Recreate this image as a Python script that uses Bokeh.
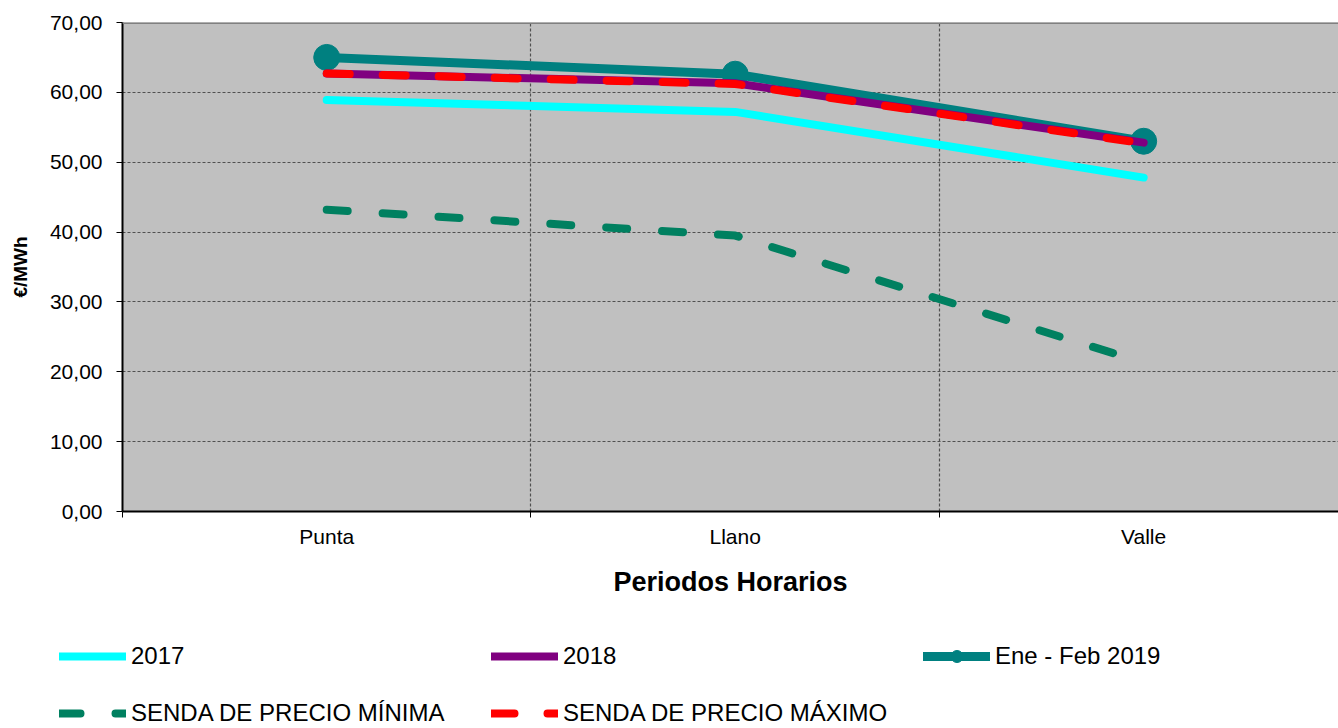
from bokeh.plotting import figure
from bokeh.layouts import column, row
from bokeh.models import Range1d, FixedTicker, Legend, LegendItem, Span
from bokeh.embed import file_html
from bokeh.resources import INLINE

# ---- data ----
categories = ["Punta", "Llano", "Valle"]
serie_2017 = [58.9, 57.2, 47.8]
serie_2018 = [62.7, 61.3, 52.8]
serie_2019 = [65.0, 62.6, 53.0]
senda_min = [43.2, 39.5, 21.3]
senda_max = [62.7, 61.2, 52.7]
y_ticks = [0, 10, 20, 30, 40, 50, 60, 70]
y_labels = ["0,00", "10,00", "20,00", "30,00", "40,00", "50,00", "60,00", "70,00"]
series_labels = ["2017", "2018", "Ene - Feb 2019",
                 "SENDA DE PRECIO MÍNIMA", "SENDA DE PRECIO MÁXIMO"]

FONT = "Liberation Sans"

# ---- styles ----
st_2017 = dict(line_color="#00FFFF", line_width=8, line_cap="round", line_join="round")
st_2018 = dict(line_color="#800080", line_width=8, line_cap="round", line_join="round")
st_2019 = dict(line_color="#008080", line_width=9, line_cap="round", line_join="round")
st_min = dict(line_color="#008060", line_width=8, line_cap="round", line_dash="21 35")
st_max = dict(line_color="#FF0000", line_width=8, line_cap="round", line_dash="23 33")
st_2019m = dict(marker="circle", fill_color="#008080", line_color="#008080")

x = [i + 0.5 for i in range(len(categories))]
bounds = [float(i) for i in range(len(categories) + 1)]

p = figure(width=1338, height=605, output_backend="svg", toolbar_location=None,
           x_range=Range1d(0, 2.977), y_range=Range1d(y_ticks[0], y_ticks[-1]),
           min_border_left=122, min_border_top=22, min_border_right=0,
           min_border_bottom=94)
p.background_fill_color = "#C0C0C0"
p.border_fill_color = "white"
p.outline_line_color = None
p.add_layout(Span(location=y_ticks[-1], dimension="width", line_color="#808080",
                  line_width=3))

# x axis
p.xaxis.ticker = FixedTicker(ticks=x, minor_ticks=bounds)
p.xaxis.major_label_overrides = {xi: c for xi, c in zip(x, categories)}
p.xaxis.major_tick_line_color = None
p.xaxis.major_tick_out = 6
p.xaxis.major_tick_in = 0
p.xaxis.minor_tick_line_color = "black"
p.xaxis.minor_tick_out = 6
p.xaxis.minor_tick_in = 0
p.xaxis.axis_line_color = "black"
p.xaxis.axis_line_width = 2
p.xaxis.major_label_text_font = FONT
p.xaxis.major_label_text_font_size = "21px"
p.xaxis.major_label_text_color = "black"
p.xaxis.major_label_standoff = 7
p.xaxis.axis_label = "Periodos Horarios"
p.xaxis.axis_label_text_font = FONT
p.xaxis.axis_label_text_font_size = "27px"
p.xaxis.axis_label_text_font_style = "bold"
p.xaxis.axis_label_text_color = "black"
p.xaxis.axis_label_standoff = 16

# y axis
p.yaxis.ticker = FixedTicker(ticks=y_ticks, minor_ticks=[])
p.yaxis.major_label_overrides = {t: l for t, l in zip(y_ticks, y_labels)}
p.yaxis.major_tick_line_color = "black"
p.yaxis.major_tick_out = 6
p.yaxis.major_tick_in = 0
p.yaxis.axis_line_color = "black"
p.yaxis.axis_line_width = 2
p.yaxis.major_label_text_font = FONT
p.yaxis.major_label_text_font_size = "21px"
p.yaxis.major_label_text_color = "black"
p.yaxis.major_label_standoff = 14
p.yaxis.axis_label = "€/MWh"
p.yaxis.axis_label_text_font = FONT
p.yaxis.axis_label_text_font_size = "19px"
p.yaxis.axis_label_text_font_style = "bold"
p.yaxis.axis_label_text_color = "black"
p.yaxis.axis_label_standoff = 16

# grids
p.xgrid.ticker = FixedTicker(ticks=bounds[1:-1])
for g in (p.xgrid, p.ygrid):
    g.grid_line_color = "#505050"
    g.grid_line_width = 1.2
    g.grid_line_dash = "3 2"

# series
p.line(x, serie_2017, **st_2017)
p.line(x, serie_2019, **st_2019)
p.scatter(x, serie_2019, size=26, **st_2019m)
p.line(x, serie_2018, **st_2018)
p.line(x, senda_min, **st_min)
p.line(x, senda_max, **st_max)

# ---- legend strip below the chart (same series, hidden, used only as legend keys) ----
q = figure(width=1338, height=123, output_backend="svg", toolbar_location=None,
           x_range=Range1d(0, 3), y_range=Range1d(0, 70),
           x_axis_location=None, y_axis_location=None,
           min_border_left=0, min_border_right=0, min_border_top=0, min_border_bottom=0)
q.grid.visible = False
q.outline_line_color = None
q.background_fill_color = "white"
q.border_fill_color = "white"

l2017 = q.line(x, serie_2017, visible=False, **st_2017)
l2018 = q.line(x, serie_2018, visible=False, **st_2018)
l2019 = q.line(x, serie_2019, visible=False, **st_2019)
l2019m = q.scatter(x, serie_2019, visible=False, **st_2019m)
lmin = q.line(x, senda_min, visible=False, **st_min)
lmax = q.line(x, senda_max, visible=False, **st_max)

legend = Legend(items=[
    LegendItem(label=series_labels[0], renderers=[l2017]),
    LegendItem(label=series_labels[1], renderers=[l2018]),
    LegendItem(label=series_labels[2], renderers=[l2019, l2019m]),
    LegendItem(label=series_labels[3], renderers=[lmin]),
    LegendItem(label=series_labels[4], renderers=[lmax]),
], location=(59, 0), orientation="horizontal", ncols=3)
legend.border_line_color = None
legend.background_fill_alpha = 0
legend.padding = 0
legend.margin = 0
legend.spacing = 27
legend.glyph_width = 67
legend.glyph_height = 30
legend.label_height = 30
legend.label_width = 333
legend.label_standoff = 5
legend.label_text_font = FONT
legend.label_text_font_size = "24px"
legend.label_text_color = "black"
q.add_layout(legend)

layout = column(p, row(q, spacing=0), spacing=0)
open("out.html", "w").write(file_html(layout, INLINE))
